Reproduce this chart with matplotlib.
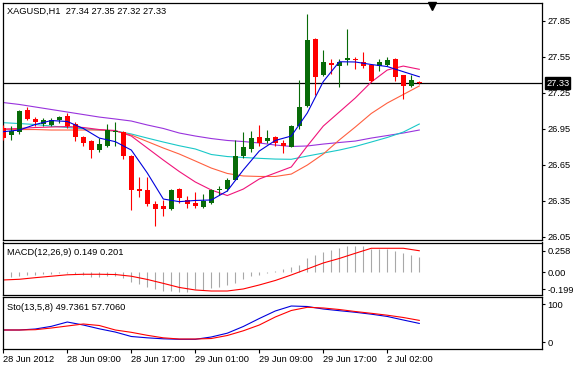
import matplotlib
matplotlib.use('Agg')
import matplotlib.pyplot as plt
import matplotlib.transforms as mtransforms

plt.rcParams['font.family'] = ['Liberation Sans', 'DejaVu Sans']
plt.rcParams['font.size'] = 6.7

# ---- data (XAGUSD H1) ----
opens = [26.96, 26.90, 26.92, 27.11, 27.03, 26.99, 26.98, 27.02, 27.06, 26.99,
         26.88, 26.85, 26.77, 26.81, 26.92, 26.92, 26.72, 26.45, 26.44, 26.32,
         26.31, 26.28, 26.45, 26.36, 26.33, 26.30, 26.33, 26.44, 26.45, 26.52,
         26.72, 26.78, 26.88, 26.85, 26.88, 26.83, 26.80, 26.97, 27.14, 27.70,
         27.40, 27.50, 27.47, 27.52, 27.53, 27.51, 27.48, 27.47, 27.48, 27.53,
         27.40, 27.31, 27.34]
highs = [26.98, 26.97, 27.11, 27.13, 27.05, 27.04, 27.04, 27.06, 27.08, 27.01,
         26.89, 26.86, 26.87, 26.99, 27.01, 26.93, 26.73, 26.55, 26.55, 26.35,
         26.36, 26.45, 26.46, 26.39, 26.42, 26.41, 26.45, 26.47, 26.54, 26.86,
         26.92, 26.93, 26.98, 26.94, 26.89, 26.86, 26.98, 27.36, 27.91, 27.71,
         27.61, 27.53, 27.53, 27.78, 27.55, 27.59, 27.49, 27.53, 27.55, 27.54,
         27.40, 27.40, 27.35]
lows = [26.86, 26.86, 26.91, 27.02, 26.97, 26.97, 26.97, 27.00, 26.96, 26.85,
        26.81, 26.71, 26.76, 26.80, 26.81, 26.70, 26.27, 26.38, 26.31, 26.14,
        26.22, 26.27, 26.33, 26.29, 26.29, 26.29, 26.32, 26.40, 26.43, 26.52,
        26.71, 26.76, 26.81, 26.83, 26.81, 26.75, 26.80, 26.95, 27.13, 27.23,
        27.39, 27.41, 27.30, 27.48, 27.45, 27.46, 27.34, 27.43, 27.47, 27.35,
        27.20, 27.30, 27.32]
closes = [26.87, 26.93, 27.10, 27.03, 27.01, 27.02, 27.02, 27.05, 26.97, 26.88,
          26.83, 26.77, 26.82, 26.94, 26.93, 26.72, 26.44, 26.43, 26.32, 26.28,
          26.28, 26.44, 26.37, 26.32, 26.31, 26.35, 26.44, 26.45, 26.52, 26.72,
          26.80, 26.87, 26.83, 26.87, 26.83, 26.81, 26.97, 27.13, 27.69, 27.38,
          27.51, 27.48, 27.51, 27.54, 27.52, 27.47, 27.35, 27.51, 27.52, 27.38,
          27.31, 27.36, 27.33]

# moving averages, sampled every second bar
ma_bars = list(range(0, 53, 2))
ma_blue = [26.925, 26.939, 26.985, 27.018, 27.010, 26.952, 26.872, 26.842, 26.772,
           26.581, 26.364, 26.342, 26.352, 26.356, 26.431, 26.606, 26.764, 26.852,
           26.889, 27.081, 27.343, 27.508, 27.506, 27.485, 27.468, 27.425, 27.383]
ma_pink = [26.947, 26.952, 26.960, 26.964, 26.968, 26.960, 26.943, 26.935, 26.889,
           26.789, 26.689, 26.593, 26.506, 26.439, 26.393, 26.447, 26.531, 26.581,
           26.631, 26.806, 26.972, 27.089, 27.206, 27.339, 27.439, 27.472, 27.445]
ma_orange = [26.945, 26.943, 26.943, 26.939, 26.939, 26.939, 26.939, 26.931, 26.897,
             26.843, 26.789, 26.739, 26.681, 26.622, 26.577, 26.556, 26.552, 26.552,
             26.572, 26.647, 26.739, 26.856, 26.964, 27.077, 27.164, 27.235, 27.306]
ma_cyan = [27.000, 26.993, 26.985, 26.972, 26.960, 26.950, 26.939, 26.931, 26.906,
           26.872, 26.839, 26.808, 26.781, 26.735, 26.718, 26.710, 26.703, 26.697,
           26.695, 26.722, 26.747, 26.772, 26.802, 26.839, 26.877, 26.922, 26.989]
ma_purple = [27.168, 27.152, 27.131, 27.110, 27.089, 27.068, 27.047, 27.031, 27.014,
             26.981, 26.952, 26.914, 26.889, 26.868, 26.852, 26.843, 26.831, 26.814,
             26.802, 26.806, 26.822, 26.835, 26.847, 26.872, 26.893, 26.914, 26.939]

macd_hist = [-0.06, -0.05, -0.04, -0.03, -0.03, -0.02, -0.02, -0.01, -0.01, -0.02,
             -0.03, -0.05, -0.05, -0.04, -0.04, -0.07, -0.11, -0.13, -0.167, -0.198,
             -0.214, -0.214, -0.226, -0.226, -0.198, -0.206, -0.186, -0.167, -0.147, -0.12,
             -0.08, -0.041, -0.03, -0.01, 0.02, 0.038, 0.061, 0.088, 0.167, 0.206,
             0.245, 0.265, 0.285, 0.312, 0.312, 0.312, 0.273, 0.273, 0.273, 0.257,
             0.233, 0.206, 0.179]
macd_signal = [-0.088, -0.080, -0.061, -0.044, -0.027, -0.021, -0.021, -0.024, -0.044,
               -0.082, -0.128, -0.176, -0.206, -0.218, -0.218, -0.194, -0.147, -0.094,
               -0.029, 0.041, 0.112, 0.165, 0.226, 0.285, 0.285, 0.285, 0.256]

sto_main = [32.4, 32.4, 35.0, 42.0, 53.4, 45.5, 35.5, 27.0, 15.3, 11.8, 9.2, 7.9, 7.9,
            14.0, 24.0, 41.6, 62.6, 82.4, 95.5, 94.2, 87.6, 83.2, 79.0, 74.0, 68.0, 58.7, 49.7]
sto_signal = [32.4, 32.4, 33.2, 37.6, 42.9, 48.2, 44.2, 32.4, 26.3, 18.4, 11.8, 8.7, 8.7,
              10.0, 17.9, 30.3, 45.5, 66.6, 83.7, 92.1, 90.3, 86.3, 81.0, 76.3, 71.3, 65.3, 57.7]

time_tick_bars = [0, 8, 16, 24, 32, 40, 48]
time_labels = ['28 Jun 2012', '28 Jun 09:00', '28 Jun 17:00', '29 Jun 01:00',
               '29 Jun 09:00', '29 Jun 17:00', '2 Jul 02:00']
price_ticks = [26.05, 26.35, 26.65, 26.95, 27.25, 27.55, 27.85]
last_price = 27.33

W, H = 582, 367
fig = plt.figure(figsize=(W / 100, H / 100), dpi=100)


def px_axes(x0, y0, x1, y1):
    return fig.add_axes([x0 / W, 1 - y1 / H, (x1 - x0) / W, (y1 - y0) / H])


ax = px_axes(2.5, 2.5, 542, 240)
ax_macd = px_axes(2.5, 242.5, 542, 295)
ax_sto = px_axes(2.5, 297, 542, 349)

for a in (ax, ax_macd, ax_sto):
    a.set_xlim(-0.1, 67.34)
    a.yaxis.tick_right()
    a.tick_params(axis='y', length=2.5, width=0.8, pad=1.5, direction='out', colors='black')
    a.tick_params(axis='x', bottom=False, labelbottom=False)
    for s in a.spines.values():
        s.set_linewidth(0.9)
        s.set_color('black')

# ---- price panel ----
ax.set_ylim(26.0225, 28.0017)
ax.set_yticks(price_ticks)
ax.set_yticklabels([f'{p:.2f}' for p in price_ticks])

green, red = '#086b08', '#ff0000'
for i, (o, h, l, c) in enumerate(zip(opens, highs, lows, closes)):
    col = green if c >= o else red
    ax.vlines(i, l, h, color=col, lw=0.8, zorder=3)
    ax.bar(i, max(abs(c - o), 0.007), bottom=min(o, c), width=0.62,
           color=col, linewidth=0, zorder=3)

ax.plot(ma_bars, ma_purple, color='#9933dd', lw=0.8, zorder=2)
ax.plot(ma_bars, ma_cyan, color='#19c8c8', lw=0.8, zorder=2)
ax.plot(ma_bars, ma_orange, color='#ff6040', lw=0.8, zorder=2)
ax.plot(ma_bars, ma_pink, color='#f0147a', lw=0.8, zorder=2)
ax.plot(ma_bars, ma_blue, color='#0000dd', lw=0.8, zorder=4)

ax.axhline(last_price, color='black', lw=0.9, zorder=1)
blend = mtransforms.blended_transform_factory(ax.transAxes, ax.transData)
ax.text(1.0075, last_price, f'{last_price:.2f}', transform=blend, color='white',
        va='center', ha='left', zorder=10,
        bbox=dict(boxstyle='square,pad=0.12', fc='black', ec='black'))
ax.plot([0.796], [0.985], marker='v', ms=6, color='black', transform=ax.transAxes,
        clip_on=False)
ax.text(0.0078, 0.963, 'XAGUSD,H1  27.34 27.35 27.32 27.33', transform=ax.transAxes,
        va='center', ha='left')

# ---- MACD panel ----
ax_macd.set_ylim(-0.265, 0.353)
ax_macd.set_yticks([0.258, 0.0, -0.199])
ax_macd.set_yticklabels(['0.258', '0.00', '-0.199'])
ax_macd.vlines(range(len(macd_hist)), 0, macd_hist, color='#a8a8a8', lw=0.8)
ax_macd.plot(ma_bars, macd_signal, color='#ff0000', lw=0.8)
ax_macd.text(0.0085, 0.81, 'MACD(12,26,9) 0.149 0.201', transform=ax_macd.transAxes,
             va='center', ha='left')

# ---- Stochastic panel ----
ax_sto.set_ylim(-17.6, 119.2)
ax_sto.set_yticks([100, 0])
ax_sto.set_yticklabels(['100', '0'])
ax_sto.plot(ma_bars, sto_main, color='#0000dd', lw=0.8)
ax_sto.plot(ma_bars, sto_signal, color='#ff0000', lw=0.8)
ax_sto.text(0.0085, 0.80, 'Sto(13,5,8) 49.7361 57.7060', transform=ax_sto.transAxes,
            va='center', ha='left')
ax_sto.set_xticks(time_tick_bars)
ax_sto.set_xticklabels(time_labels, ha='left')
ax_sto.tick_params(axis='x', bottom=True, labelbottom=True, length=3, width=0.8,
                   pad=1.5, direction='out')

fig.savefig('out.png', dpi=100)
